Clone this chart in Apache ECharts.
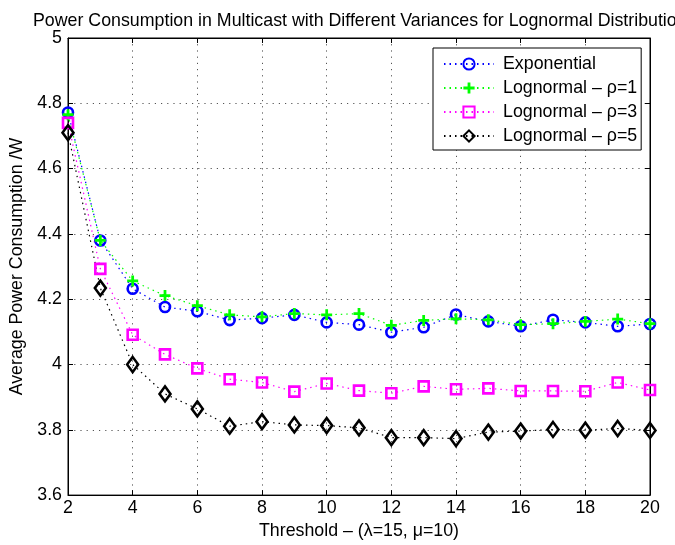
<!DOCTYPE html>
<html>
<head>
<meta charset="utf-8">
<script src="https://cdn.jsdelivr.net/npm/echarts@6/dist/echarts.min.js"></script>
<style>
  html, body { margin: 0; padding: 0; background: #fff; overflow: hidden; }
  #chart { width: 675px; height: 545px; }
</style>
</head>
<body>
<div id="chart"></div>
<script>
// Threshold values on the x axis
const thresholds = [2, 3, 4, 5, 6, 7, 8, 9, 10, 11, 12, 13, 14, 15, 16, 17, 18, 19, 20];

// Average power consumption (W) per distribution
const exponential = [4.772, 4.380, 4.232, 4.176, 4.163, 4.136, 4.142, 4.152, 4.129, 4.122, 4.099, 4.114, 4.153, 4.132, 4.117, 4.137, 4.129, 4.117, 4.124];
const lognormalRho1 = [4.765, 4.380, 4.256, 4.211, 4.180, 4.152, 4.146, 4.156, 4.152, 4.156, 4.120, 4.135, 4.140, 4.137, 4.122, 4.125, 4.132, 4.139, 4.125];
const lognormalRho3 = [4.740, 4.293, 4.091, 4.031, 3.988, 3.955, 3.945, 3.917, 3.942, 3.920, 3.912, 3.933, 3.924, 3.927, 3.919, 3.919, 3.918, 3.945, 3.922];
const lognormalRho5 = [4.710, 4.234, 4.000, 3.910, 3.864, 3.811, 3.825, 3.815, 3.813, 3.806, 3.776, 3.776, 3.773, 3.793, 3.796, 3.801, 3.799, 3.804, 3.798];

const seriesNames = ['Exponential', 'Lognormal \u2013 \u03c1=1', 'Lognormal \u2013 \u03c1=3', 'Lognormal \u2013 \u03c1=5'];

const FONT = 'Liberation Sans, Arial, Helvetica, sans-serif';
const FS = 17.8;
const plusPath = 'path://M3,0H5V3H8V5H5V8H3V5H0V3H3Z';

function pairs(ys) {
  return thresholds.map((x, i) => [x, ys[i]]);
}

function makeSeries(name, data, color, symbol, size, hollow) {
  return {
    name: name,
    type: 'line',
    data: pairs(data),
    symbol: symbol,
    symbolSize: size,
    showAllSymbol: true,
    lineStyle: { color: color, width: 1.2, type: [1.5, 4] },
    itemStyle: hollow
      ? { color: 'rgba(0,0,0,0)', borderColor: color, borderWidth: 2.6 }
      : { color: color, borderWidth: 0 },
    emphasis: { disabled: true },
    animation: false
  };
}

const gridLine = { show: true, lineStyle: { color: '#555', width: 1, type: [1.2, 5] } };
const tickStyle = { show: true, inside: true, length: 5, lineStyle: { color: '#000' } };
const fmt1 = v => String(+v.toFixed(1));

const option = {
  backgroundColor: '#fff',
  animation: false,
  title: {
    text: 'Power Consumption in Multicast with Different Variances for Lognormal Distribution',
    left: 28,
    top: 7,
    textStyle: { fontFamily: FONT, fontSize: FS, fontWeight: 'normal', color: '#000' }
  },
  grid: { left: 68, right: 25, top: 38, bottom: 45, show: true, borderColor: '#000', borderWidth: 1 },
  legend: {
    orient: 'vertical',
    left: 433,
    top: 48,
    itemWidth: 50,
    itemHeight: 14,
    itemGap: 6,
    padding: [7, 4, 5, 10],
    borderColor: '#000',
    borderWidth: 1,
    backgroundColor: '#fff',
    textStyle: { fontFamily: FONT, fontSize: FS, color: '#000', padding: [0, 0, 0, 4] },
    data: seriesNames
  },
  xAxis: [{
    type: 'value',
    min: 2, max: 20, interval: 2,
    name: 'Threshold \u2013 (\u03bb=15, \u03bc=10)',
    nameLocation: 'middle',
    nameGap: 24,
    nameTextStyle: { fontFamily: FONT, fontSize: FS, color: '#000' },
    axisLine: { show: true, lineStyle: { color: '#000' } },
    axisTick: tickStyle,
    axisLabel: { fontFamily: FONT, fontSize: FS, color: '#000', margin: 4 },
    splitLine: gridLine
  }, {
    type: 'value', position: 'top',
    min: 2, max: 20, interval: 2,
    axisLine: { show: true, lineStyle: { color: '#000' } },
    axisTick: tickStyle,
    axisLabel: { show: false },
    splitLine: { show: false }
  }],
  yAxis: [{
    type: 'value',
    min: 3.6, max: 5, interval: 0.2,
    name: 'Average Power Consumption /W',
    nameLocation: 'middle',
    nameGap: 35,
    nameTextStyle: { fontFamily: FONT, fontSize: FS, color: '#000' },
    axisLine: { show: true, lineStyle: { color: '#000' } },
    axisTick: tickStyle,
    axisLabel: { fontFamily: FONT, fontSize: FS, color: '#000', margin: 6, formatter: fmt1 },
    splitLine: gridLine
  }, {
    type: 'value', position: 'right',
    min: 3.6, max: 5, interval: 0.2,
    axisLine: { show: true, lineStyle: { color: '#000' } },
    axisTick: tickStyle,
    axisLabel: { show: false },
    splitLine: { show: false }
  }],
  series: [
    makeSeries(seriesNames[0], exponential, '#0000ff', 'circle', 10, true),
    makeSeries(seriesNames[1], lognormalRho1, '#00ff00', plusPath, 11, false),
    makeSeries(seriesNames[2], lognormalRho3, '#ff00ff', 'rect', 10, true),
    makeSeries(seriesNames[3], lognormalRho5, '#000000', 'diamond', [11, 15], true)
  ]
};

const chart = echarts.init(document.getElementById('chart'), null, { renderer: 'canvas' });
chart.setOption(option);
</script>
</body>
</html>
